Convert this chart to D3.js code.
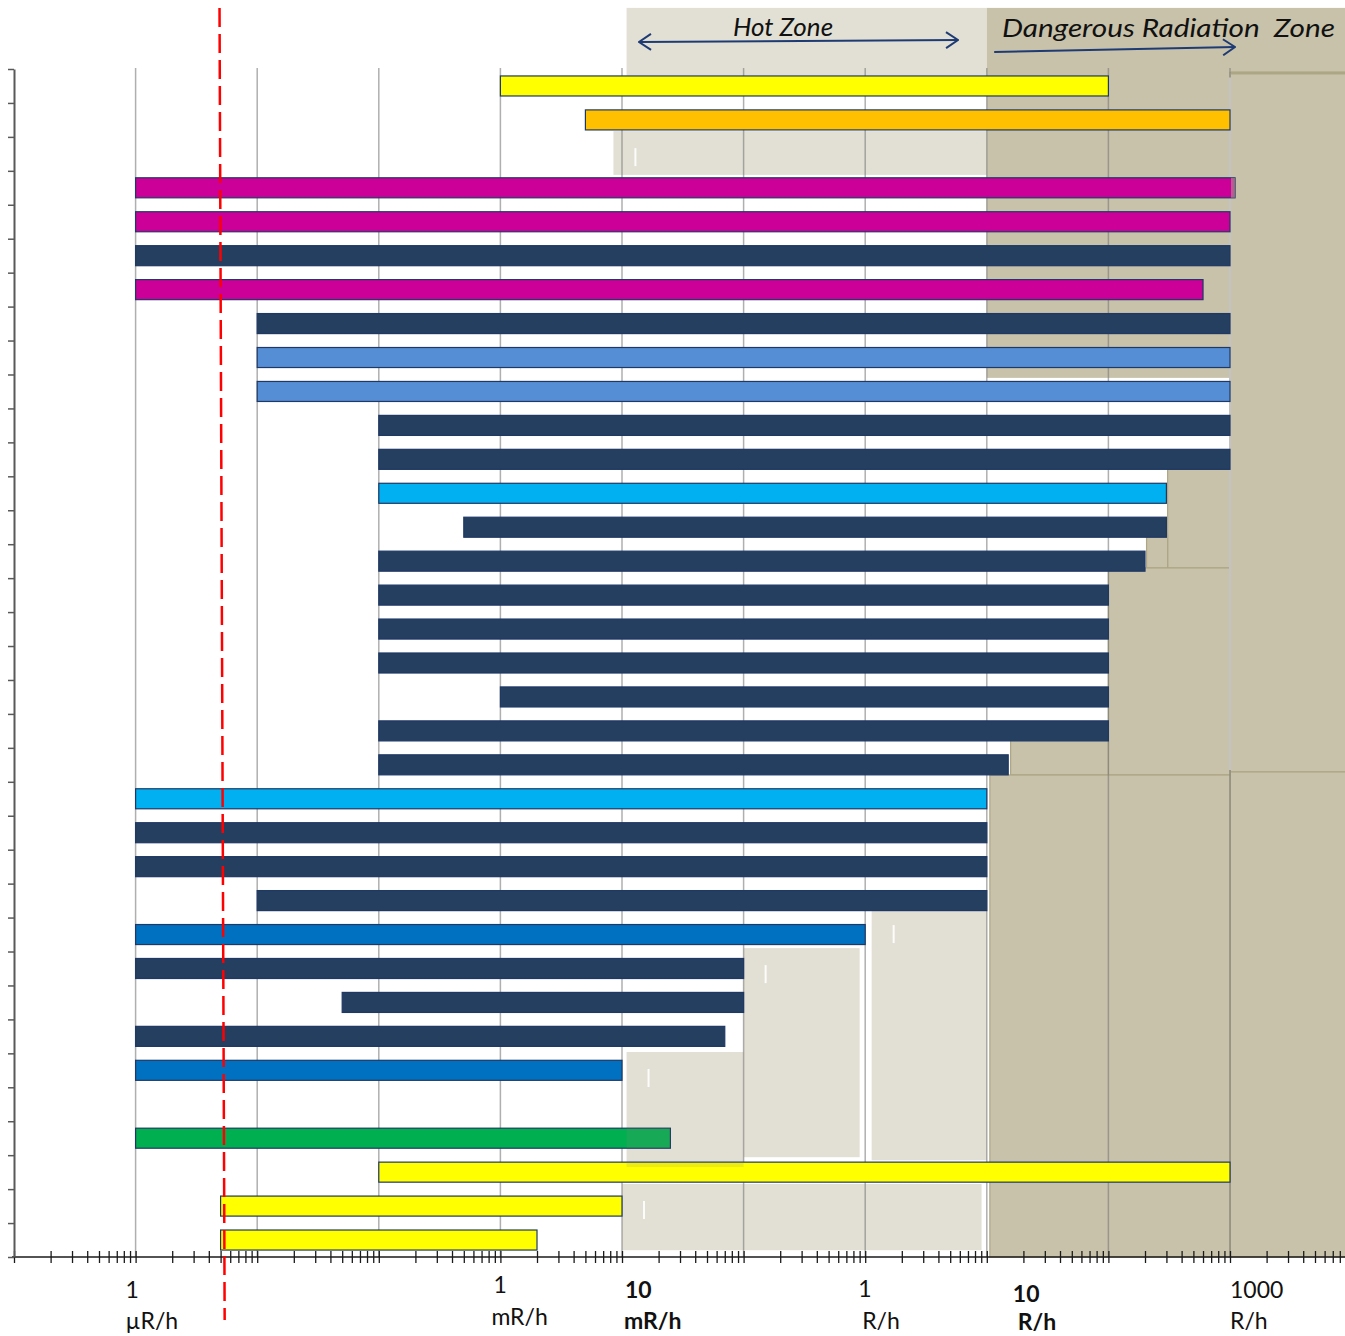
<!DOCTYPE html>
<html>
<head>
<meta charset="utf-8">
<script src="https://cdn.jsdelivr.net/npm/d3@7"></script>
<style>
  html, body { margin: 0; padding: 0; background: #fff; }
  svg { display: block; }
</style>
</head>
<body>
<svg id="chart" width="1345" height="1336"></svg>
<script>
// ---- data -------------------------------------------------------------
// one row per instrument, top to bottom (rows without a bar are null)
const rowIds = ["r01","r02","r03","r04","r05","r06","r07","r08","r09","r10",
                "r11","r12","r13","r14","r15","r16","r17","r18","r19","r20",
                "r21","r22","r23","r24","r25","r26","r27","r28","r29","r30",
                "r31","r32","r33","r34","r35"];

// measuring range, lower end (R/h)
const rangeLow = [1e-3, 5e-3, null, 1e-6, 1e-6, 1e-6, 1e-6, 1e-5, 1e-5, 1e-5,
                  1e-4, 1e-4, 1e-4, 5e-4, 1e-4, 1e-4, 1e-4, 1e-4, 1e-3, 1e-4,
                  1e-4, 1e-6, 1e-6, 1e-6, 1e-5, 1e-6, 1e-6, 5e-5, 1e-6, 1e-6,
                  null, 1e-6, 1e-4, 5e-6, 5e-6];

// measuring range, upper end (R/h)
const rangeHigh = [100, 1000, null, 1100, 1000, 1000, 600, 1000, 1000, 1000,
                   1000, 1000, 300, 300, 200, 100, 100, 100, 100, 100,
                   15, 10, 10, 10, 10, 1, 0.1, 0.1, 0.07, 0.01,
                   null, 0.025, 1000, 0.01, 2e-3];

// fill of each bar
const rowColor = ["#FFFF00","#FFC000",null,"#CC0099","#CC0099","#243F60","#CC0099","#243F60","#558ED5","#558ED5",
                  "#243F60","#243F60","#00B0F0","#243F60","#243F60","#243F60","#243F60","#243F60","#243F60","#243F60",
                  "#243F60","#00B0F0","#243F60","#243F60","#243F60","#0070C0","#243F60","#243F60","#243F60","#0070C0",
                  null,"#00B050","#FFFF00","#FFFF00","#FFFF00"];

// decade gridlines (R/h)
const gridDecades = [1e-6, 1e-5, 1e-4, 1e-3, 1e-2, 1e-1, 1, 10, 100, 1000];

// axis labels under the decades
const labelValues = [1e-6, 1e-3, 1e-2, 1, 10, 1000];
const labelNumbers = ["1", "1", "10", "1", "10", "1000"];
const labelUnits = ["\u00B5R/h", "mR/h", "mR/h", "R/h", "R/h", "R/h"];
const labelBold = [false, false, true, false, true, false];

// reference line: background level (R/h)
const backgroundLevel = [4.9e-6, 5.4e-6];

// shaded areas [x0, x1, row0, row1] in R/h and row units
const hotZoneAreas = [
  [0.0109, 10, -1.8, 0.2],
  [0.0085, 10, 1.83, 3.12],
  [1.13, 10, 24.72, 32.15],
  [0.1, 0.9, 25.9, 32.06],
  [0.0109, 0.1, 28.96, 32.35],
  [0.01, 9.06, 32.85, 34.8]
];
const dangerZoneAreas = [
  [10, 1.2e4, -1.8, 0.1, false],
  [10, 1000, 0, 9.1, false],
  [1000, 1.2e4, 0.1, 20.71, true],
  [1000, 1.2e4, 20.71, 35, true],
  [307, 1000, 11.79, 14.7, true],
  [206, 307, 13.73, 14.7, true],
  [100, 1000, 14.7, 20.8, true],
  [15.7, 100, 19.71, 20.8, true],
  [10.6, 1000, 20.8, 35, true]
];

// ---- layout -----------------------------------------------------------
const svg = d3.select("#chart");
const axisY = 1257;
const x = d3.scaleLog().domain([1e-7, 1e4]).range([14, 14 + 11 * 121.6]);
const rowPos = d3.scaleLinear().domain([0, rowIds.length]).range([69, axisY]);
const y = d3.scaleBand().domain(rowIds).range([69, axisY])
  .paddingInner(0.41).paddingOuter(0.205);

const rows = rowIds.map((id, i) => ({ id, lo: rangeLow[i], hi: rangeHigh[i], color: rowColor[i] }))
  .filter(d => d.lo !== null);

const TAN = "#C8C2AA", BEIGE = "#E2E0D4", NAVY = "#1F3B73";
const areaX = d => x(d[0]), areaW = d => x(d[1]) - x(d[0]);
const areaY = d => rowPos(d[2]), areaH = d => rowPos(d[3]) - rowPos(d[2]);

// ---- shaded zones -----------------------------------------------------
const zoneG = svg.append("g");
zoneG.selectAll("rect.hot").data(hotZoneAreas).join("rect")
  .attr("class", "hot")
  .attr("x", areaX).attr("width", areaW).attr("y", areaY).attr("height", areaH)
  .attr("fill", BEIGE);

// small cursor marks inside the light boxes
zoneG.selectAll("rect.mark").data(hotZoneAreas.slice(1)).join("rect")
  .attr("class", "mark")
  .attr("x", d => x(d[0]) + 21).attr("width", 2)
  .attr("y", d => rowPos(d[2]) + 17).attr("height", 18)
  .attr("fill", "#ffffff").attr("opacity", 0.9);

zoneG.selectAll("rect.danger").data(dangerZoneAreas).join("rect")
  .attr("class", "danger")
  .attr("x", areaX).attr("width", areaW).attr("y", areaY).attr("height", areaH)
  .attr("fill", TAN)
  .attr("stroke", d => d[4] ? "#ADA685" : "none")
  .attr("stroke-width", 1.2);

// white seam between the upper danger columns
zoneG.append("line")
  .attr("x1", x(1000)).attr("x2", x(1000))
  .attr("y1", rowPos(0.25)).attr("y2", rowPos(20.65))
  .attr("stroke", "#ffffff").attr("stroke-width", 2);
zoneG.append("line")
  .attr("x1", x(1000) + 1).attr("x2", x(1.2e4))
  .attr("y1", rowPos(0.12)).attr("y2", rowPos(0.12))
  .attr("stroke", "#ADA685").attr("stroke-width", 3);

// ---- gridlines --------------------------------------------------------
svg.append("g").selectAll("line").data(gridDecades).join("line")
  .attr("x1", d => x(d)).attr("x2", d => x(d))
  .attr("y1", 68).attr("y2", axisY)
  .attr("stroke", "#7a7a7a").attr("stroke-opacity", 0.6).attr("stroke-width", 1.5);

// ---- axes -------------------------------------------------------------
const logTicks = [];
for (let e = -7; e <= 3; e++) for (let k = 1; k <= 9; k++) logTicks.push(k * Math.pow(10, e));

const xAxisG = svg.append("g").attr("transform", `translate(0,${axisY})`)
  .call(d3.axisBottom(x).tickValues(logTicks).tickFormat("").tickSizeOuter(0));
xAxisG.select(".domain").attr("stroke", "#1a1a1a").attr("stroke-width", 1.5)
  .attr("d", `M12,0H1345`);
xAxisG.selectAll(".tick line").attr("y1", -6).attr("y2", 6)
  .attr("stroke", "#1a1a1a").attr("stroke-width", 1.3);

const yAxisG = svg.append("g").attr("transform", `translate(14,0)`)
  .call(d3.axisLeft(rowPos).tickValues(d3.range(0, rowIds.length + 1)).tickFormat("").tickSize(6).tickSizeOuter(0));
yAxisG.select(".domain").attr("stroke", "#595959").attr("stroke-width", 2);
yAxisG.selectAll(".tick line").attr("stroke", "#595959").attr("stroke-width", 1.5);

// ---- bars -------------------------------------------------------------
const defs = svg.append("defs");
const barRect = sel => sel
  .attr("x", d => x(d.lo))
  .attr("width", d => x(d.hi) - x(d.lo))
  .attr("y", d => y(d.id))
  .attr("height", y.bandwidth());

svg.append("g").selectAll("rect").data(rows).join("rect")
  .call(barRect)
  .attr("fill", d => d.color)
  .attr("stroke", "#1F3864").attr("stroke-width", 1.2);

// shapes that sit in front of the bars only show where they cross a bar
defs.append("clipPath").attr("id", "barClip")
  .selectAll("rect").data(rows).join("rect").call(barRect);

const overG = svg.append("g").attr("clip-path", "url(#barClip)");
overG.append("rect").datum(hotZoneAreas[4])
  .attr("x", areaX).attr("width", areaW).attr("y", areaY).attr("height", areaH)
  .attr("fill", "#8C8A70").attr("opacity", 0.16);
overG.append("rect").datum(dangerZoneAreas[2])
  .attr("x", d => areaX(d) + 1).attr("width", areaW).attr("y", areaY).attr("height", areaH)
  .attr("fill", "#A89C8C").attr("opacity", 0.6);

// ---- background level line -------------------------------------------
svg.append("line")
  .attr("x1", x(backgroundLevel[0])).attr("x2", x(backgroundLevel[1]))
  .attr("y1", 8).attr("y2", 1320)
  .attr("stroke", "#FF0000").attr("stroke-width", 2.5)
  .attr("stroke-dasharray", "19,7");

// ---- zone headers -----------------------------------------------------
defs.append("marker").attr("id", "chev").attr("viewBox", "0 0 14 18")
  .attr("refX", 13).attr("refY", 9).attr("markerWidth", 14).attr("markerHeight", 18)
  .attr("markerUnits", "userSpaceOnUse").attr("orient", "auto-start-reverse")
  .append("path").attr("d", "M1,1 L13,9 L1,17").attr("fill", "none")
  .attr("stroke", NAVY).attr("stroke-width", 2);

svg.append("line")
  .attr("x1", x(0.0138)).attr("y1", 42).attr("x2", x(5.8)).attr("y2", 40)
  .attr("stroke", NAVY).attr("stroke-width", 2)
  .attr("marker-start", "url(#chev)").attr("marker-end", "url(#chev)");
svg.append("line")
  .attr("x1", x(11.5)).attr("y1", 52).attr("x2", x(1100)).attr("y2", 47)
  .attr("stroke", NAVY).attr("stroke-width", 2)
  .attr("marker-end", "url(#chev)");

const headFont = "Lato, 'Open Sans', sans-serif";
svg.append("text").attr("x", 783).attr("y", 36).attr("text-anchor", "middle")
  .attr("font-family", headFont).attr("font-style", "italic").attr("font-size", 26)
  .attr("fill", "#111").text("Hot Zone");
svg.append("text").attr("x", 1002).attr("y", 37)
  .attr("font-family", headFont).attr("font-style", "italic").attr("font-size", 26)
  .attr("fill", "#111").style("white-space", "pre")
  .attr("textLength", 333).attr("lengthAdjust", "spacingAndGlyphs")
  .text("Dangerous Radiation  Zone");

// ---- decade labels ----------------------------------------------------
const numDx = [-10, -7, 3, -7, 26, 0];
const numBase = [1298, 1293, 1298, 1297, 1302, 1298];
const unitDx = [-10, -9, 2, -3, 31, 0];
const unitBase = [1329, 1325, 1329, 1329, 1330, 1329];

const lab = svg.append("g").attr("font-family", headFont).attr("font-size", 23).attr("fill", "#111");
labelValues.forEach((v, i) => {
  lab.append("text").attr("x", x(v) + numDx[i]).attr("y", numBase[i])
    .attr("font-weight", labelBold[i] ? 700 : 400).text(labelNumbers[i]);
  lab.append("text").attr("x", x(v) + unitDx[i]).attr("y", unitBase[i])
    .attr("font-weight", labelBold[i] ? 700 : 400).text(labelUnits[i]);
});
</script>
</body>
</html>
